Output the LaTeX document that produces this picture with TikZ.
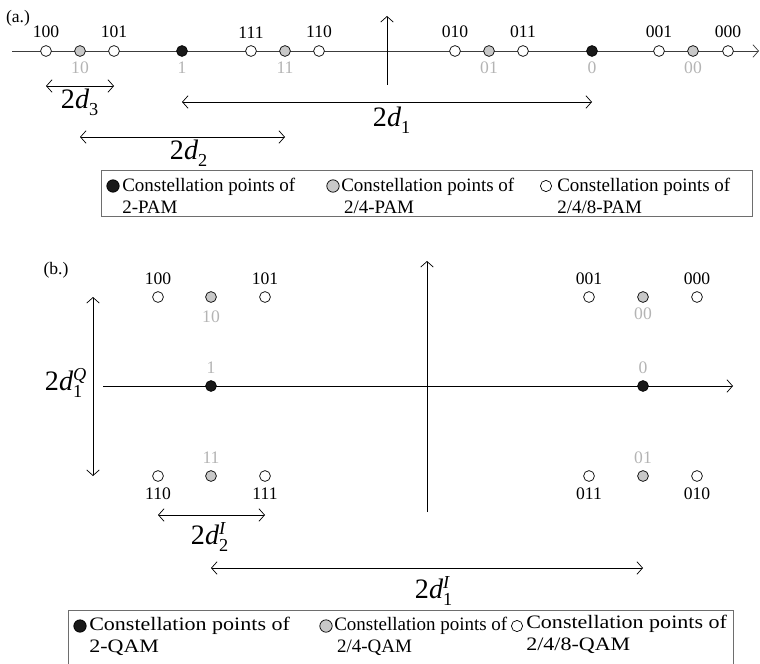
\documentclass[tikz,border=0pt]{standalone}
\usepackage{fontspec}
\setmainfont{Liberation Serif}
\newfontfamily\widefont[FakeStretch=1.16]{Liberation Serif}
\usetikzlibrary{arrows.meta}
\usetikzlibrary{positioning,calc}
\definecolor{ptgray}{RGB}{200,200,200}
\definecolor{lblgray}{RGB}{180,180,180}
\definecolor{dotblack}{RGB}{25,25,25}
\definecolor{axisgray}{RGB}{60,60,60}
\definecolor{boxgray}{RGB}{110,110,110}
\newcommand{\scr}[1]{\hbox{\fontsize{13}{13}\selectfont #1}}
\newcommand{\dsym}[2]{2\textit{d}$_{\scr{#1}}^{\scr{\itshape #2}}$}
\tikzset{
	pt/.style = {draw, circle, inner sep=0pt, minimum size=2.7mm, line width=0.5pt},
	pt8/.style = {pt, fill=white},
	pt4/.style = {pt, fill=ptgray},
	pt2/.style = {pt, fill=dotblack},
	bin/.style = {font=\fontsize{12.5}{14}\selectfont},
	gbin/.style = {bin, text=lblgray},
	up/.style = {label={[bin, label distance=1.5pt]above:#1}},
	down/.style = {label={[bin, label distance=1pt]below:#1}},
	gup/.style = {label={[gbin, label distance=1pt]above:#1}},
	gdown/.style = {label={[gbin, label distance=0pt]below:#1}},
	barb/.tip = {Straight Barb[length=4pt, width=9pt]},
	dim/.style = {barb-barb, line width=0.5pt},
	axis/.style = {-barb, line width=0.5pt},
	dimlbl/.style = {font=\fontsize{20}{22}\selectfont, inner sep=0pt},
	legtxt/.style = {font=\fontsize{13.5}{15.5}\selectfont, align=left, anchor=west, inner sep=0pt},
	widetxt/.style = {legtxt, font=\widefont\fontsize{13.5}{15.5}\selectfont},
	legbox/.style = {draw=boxgray, line width=0.6pt}
}
\begin{document}
\begin{tikzpicture}[x=0.025cm, y=-0.025cm]
	\useasboundingbox (0,0) rectangle (760,663);
	% (a.) PAM
	\node[bin] (tita) at (18,18) {(a.)};
	\coordinate (aL) at (12,51);
	\coordinate (aR) at (759,51);
	\coordinate (aB) at (387,85);
	\coordinate (aT) at (387,16);
	\draw[axis, draw=axisgray] (aL) -- (aR);
	\draw[axis] (aB) -- (aT);
	\node[pt8, up=100] (a100) at (46,51) {};
	\node[pt4, gdown=10] (a10) at (80,51) {};
	\node[pt8, up=101] (a101) at (114,51) {};
	\node[pt2, gdown=1] (a1) at (182,51) {};
	\node[pt8, up=111] (a111) at (251,51) {};
	\node[pt4, gdown=11] (a11) at (285,51) {};
	\node[pt8, up=110] (a110) at (319,51) {};
	\node[pt8, up=010] (a010) at (455,51) {};
	\node[pt4, gdown=01] (a01) at (489,51) {};
	\node[pt8, up=011] (a011) at (523,51) {};
	\node[pt2, gdown=0] (a0) at (592,51) {};
	\node[pt8, up=001] (a001) at (659,51) {};
	\node[pt4, gdown=00] (a00) at (693,51) {};
	\node[pt8, up=000] (a000) at (728,51) {};
	\draw[dim] (a100 |- 0,86) -- (a101 |- 0,86);
	\node[dimlbl] (ld3) at (80,102) {\dsym{3}{}};
	\draw[dim] (a1 |- 0,102) -- (a0 |- 0,102);
	\node[dimlbl] (ld1) at (392,120) {\dsym{1}{}};
	\draw[dim] (a10 |- 0,137) -- (a11 |- 0,137);
	\node[dimlbl] (ld2) at (189,153) {\dsym{2}{}};
	\draw[legbox] (101,170) rectangle (752,216);
	\node[pt2, minimum size=3.1mm] (ka1) at (113,186) {};
	\node[legtxt] (ta1) at (122,196) {Constellation points of\\2-PAM};
	\node[pt4, minimum size=3.1mm] (ka2) at (333,186) {};
	\node[legtxt] (ta2) at (341,196) {Constellation points of\\\hspace{2pt}2/4-PAM};
	\node[pt8, minimum size=2.8mm] (ka3) at (546,186) {};
	\node[legtxt] (ta3) at (557,196) {Constellation points of\\2/4/8-PAM};
	% (b.) QAM
	\node[bin] (titb) at (56,270) {(b.)};
	\coordinate (bL) at (103,386);
	\coordinate (bR) at (733,386);
	\coordinate (bB) at (427,512);
	\coordinate (bT) at (427,261);
	\draw[axis] (bL) -- (bR);
	\draw[axis] (bB) -- (bT);
	\node[pt8, up=100] (b100) at (158,297) {};
	\node[pt4, label={[gbin, label distance=2.5pt]below:10}] (b10) at (211,297) {};
	\node[pt8, up=101] (b101) at (265,297) {};
	\node[pt2, gup=1] (b1) at (211,386) {};
	\node[pt8, down=110] (b110) at (158,476) {};
	\node[pt4, gup=11] (b11) at (211,476) {};
	\node[pt8, down=111] (b111) at (265,476) {};
	\node[pt8, up=001] (b001) at (589,297) {};
	\node[pt4, gdown=00] (b00) at (643,297) {};
	\node[pt8, up=000] (b000) at (697,297) {};
	\node[pt2, gup=0] (b0) at (643,386) {};
	\node[pt8, down=011] (b011) at (589,476) {};
	\node[pt4, gup=01] (b01) at (643,476) {};
	\node[pt8, down=010] (b010) at (697,476) {};
	\draw[dim] (93,0 |- b100) -- (93,0 |- b110);
	\node[dimlbl] (lq1) at (66,383) {\dsym{1}{Q}};
	\draw[dim] (b110 |- 0,515) -- (b111 |- 0,515);
	\node[dimlbl] (li2) at (210,537) {\dsym{2}{I}};
	\draw[dim] (b1 |- 0,568) -- (b0 |- 0,568);
	\node[dimlbl] (li1) at (434,591) {\dsym{1}{I}};
	\draw[legbox] (68,610) rectangle (733,680);
	\node[pt2, minimum size=3.1mm] (kb1) at (80,626) {};
	\node[widetxt] (tb1) at (89,636) {Constellation points of\\2-QAM};
	\node[pt4, minimum size=3.1mm] (kb2) at (326,626) {};
	\node[legtxt] (tb2) at (334,636) {Constellation points of\\\hspace{2pt}2/4-QAM};
	\node[pt8, minimum size=2.8mm] (kb3) at (517,626) {};
	\node[widetxt] (tb3) at (526,634) {Constellation points of\\2/4/8-QAM};
\end{tikzpicture}
\end{document}
